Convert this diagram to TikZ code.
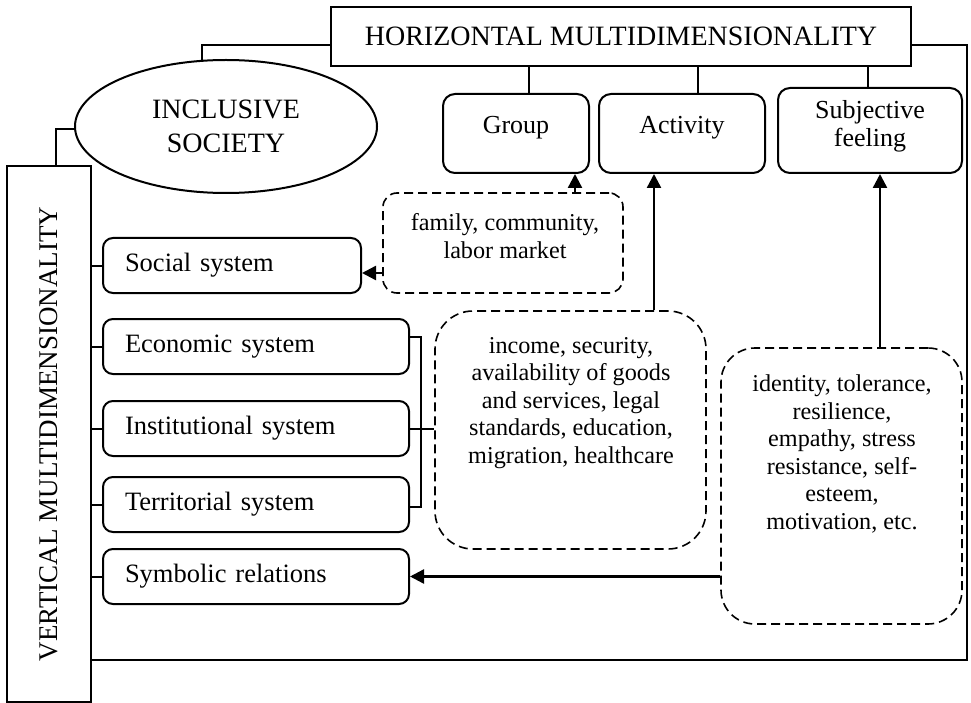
\documentclass[tikz,border=0pt]{standalone}
\usepackage{fontspec}
\usepackage{graphicx}
\setmainfont{Liberation Serif}
\usetikzlibrary{arrows.meta,shapes.geometric}
\begin{document}
\begin{tikzpicture}[x=1pt,y=-1pt, line width=2pt,
  every node/.style={inner sep=0pt},
  titlebox/.style={draw, minimum height=59pt, font=\fontsize{28}{34}\selectfont},
  topbox/.style={draw, rounded corners=12pt, align=center, font=\fontsize{26}{28}\selectfont},
  sysbox/.style={draw, rounded corners=10pt, minimum height=55pt, inner xsep=22pt, align=left, font=\fontsize{26.5}{30}\selectfont},
  dashbox/.style={draw, dash pattern=on 9pt off 5pt, line width=1.6pt},
  dashtext/.style={align=center, font=\fontsize{24.2}{27.5}\selectfont},
  arr/.style={line width=2.4pt, -{Triangle[length=14pt,width=14pt]}},
]
\useasboundingbox[fill=white] (0,0) rectangle (971,703);

% main boxes
\node[titlebox, minimum width=580pt] (hor) at (621,36.5) {HORIZONTAL MULTIDIMENSIONALITY};
\node[draw, ellipse, minimum width=302pt, minimum height=133pt, align=center,
      font=\fontsize{28}{34}\selectfont] (ell) at (226,126.5) {INCLUSIVE\\SOCIETY};
\node[draw, minimum width=84pt, minimum height=536pt, font=\fontsize{27}{30}\selectfont]
      (vert) at (49,434) {\rotatebox{90}{VERTICAL MULTIDIMENSIONALITY}\hspace{10pt}};

% top boxes
\node[topbox, minimum width=146pt, minimum height=79pt, text height=18pt, text depth=18pt] (group) at (516,133.5) {Group};
\node[topbox, minimum width=166pt, minimum height=79pt, text height=18pt, text depth=18pt] (activity) at (682,133.5) {Activity};
\node[topbox, minimum width=184pt, minimum height=85pt, text depth=14pt] (subj) at (870,130.5) {Subjective\\feeling};

% system boxes
\node[sysbox, text width=214pt] (social) at (232,265.5) {Social system};
\node[sysbox, text width=262pt] (econ) at (256,346.5) {Economic system};
\node[sysbox, text width=262pt] (inst) at (256,428.5) {Institutional system};
\node[sysbox, text width=262pt] (terr) at (256,504.5) {Territorial system};
\node[sysbox, text width=262pt] (symb) at (256,576.5) {Symbolic relations};

% dashed boxes
\node[dashbox, rounded corners=14pt, minimum width=240pt, minimum height=100pt] (family) at (503,243) {};
\node[dashtext] (familyt) at (505,236) {family, community,\\labor market};
\node[dashbox, rounded corners=38pt, minimum width=271pt, minimum height=238pt] (income) at (570.5,430) {};
\node[dashtext] (incomet) at (571,403) {income, security,\\availability of goods\\and services, legal\\standards, education,\\migration, healthcare};
\node[dashbox, rounded corners=34pt, minimum width=241pt, minimum height=276pt] (identity) at (841.5,486) {};
\node[dashtext] (identityt) at (842,454) {identity, tolerance,\\resilience,\\empathy, stress\\resistance, self-\\esteem,\\motivation, etc.};

% frame connectors
\draw ([yshift=-8.5pt]hor.west) -| (ell.110);
\draw ([yshift=-2.5pt]ell.west) -| ([xshift=7pt]vert.north);
\coordinate (rc) at (967,660);
\draw ([yshift=-8.5pt]hor.east) -| (rc) -- (rc -| vert.east);

% horizontal branches
\coordinate (g1) at ([xshift=13pt]group.north);
\coordinate (a1) at ([xshift=16pt]activity.north);
\coordinate (s1) at ([xshift=-2pt]subj.north);
\draw (g1) -- (g1 |- hor.south);
\draw (a1) -- (a1 |- hor.south);
\draw (s1) -- (s1 |- hor.south);

% vertical branches
\foreach \n in {social,econ,inst,terr,symb}
  \draw (vert.east |- \n.west) -- (\n.west);

% bracket
\coordinate (e1) at ([yshift=9.5pt]econ.east);
\coordinate (t1) at ([yshift=-2.5pt]terr.east);
\coordinate (brk) at (421,420);
\draw (e1) -| (brk) |- (t1);
\draw (inst.east) -- (inst.east -| income.west);

% arrows
\coordinate (g2) at ([xshift=59pt]group.south);
\draw[arr] (g2 |- family.north) -- (g2);
\coordinate (so) at ([yshift=-7.5pt]social.east);
\draw[arr] (so -| family.west) -- (so);
\coordinate (a2) at ([xshift=-28pt]activity.south);
\draw[arr] (a2 |- income.north) -- (a2);
\coordinate (s2) at ([xshift=10pt]subj.south);
\draw[arr] (s2 |- identity.north) -- (s2);
\draw[arr] (identity.west |- symb.east) -- (symb.east);
\end{tikzpicture}
\end{document}
